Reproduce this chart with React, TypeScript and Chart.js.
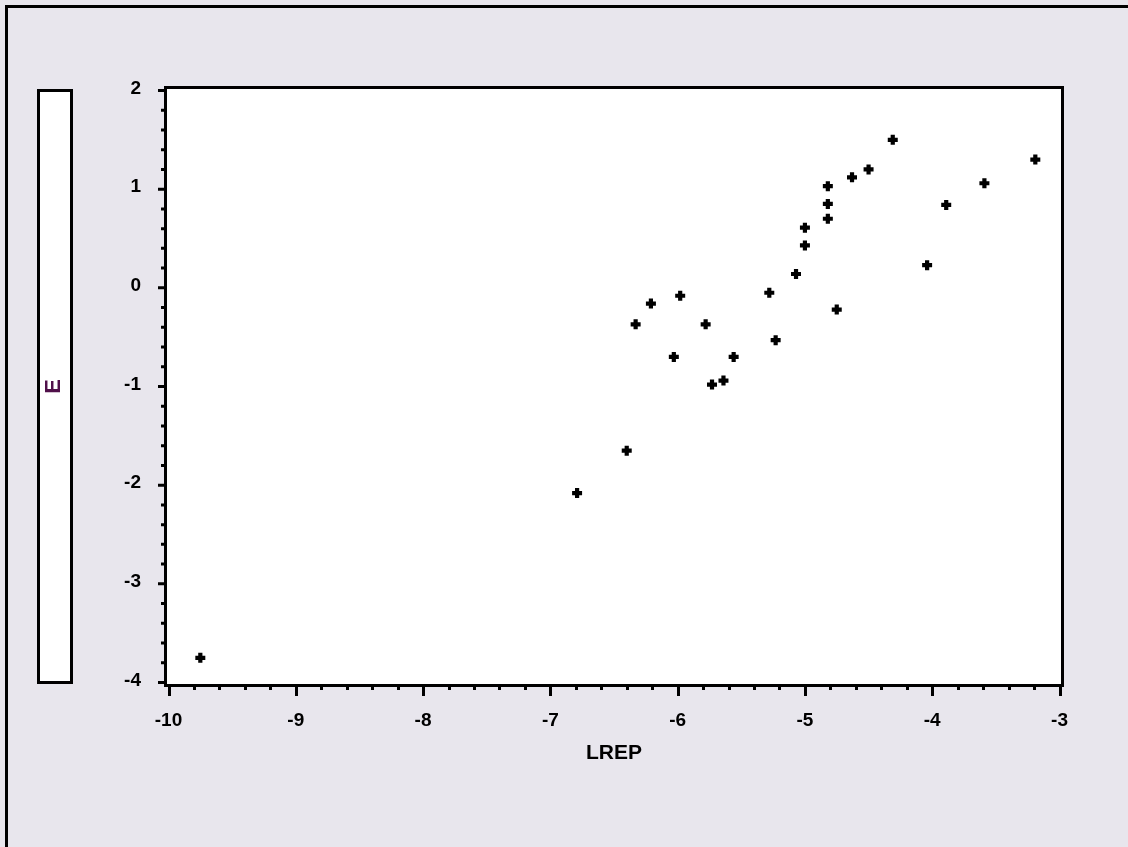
import React, { useEffect, useRef } from "react";
import { Chart, registerables } from "chart.js";

Chart.register(...registerables);

// LREP (x) values and E (y) values
const lrepValues: number[] = [
  -9.75, -6.79, -6.40, -6.33, -6.21, -6.03, -5.98, -5.78, -5.73, -5.64,
  -5.56, -5.28, -5.23, -5.07, -5.00, -5.00, -4.82, -4.82, -4.82, -4.75,
  -4.63, -4.50, -4.31, -4.04, -3.89, -3.59, -3.19,
];
const eValues: number[] = [
  -3.75, -2.08, -1.65, -0.37, -0.16, -0.70, -0.08, -0.37, -0.98, -0.94,
  -0.70, -0.05, -0.53, 0.14, 0.43, 0.61, 0.70, 0.85, 1.03, -0.22,
  1.12, 1.20, 1.50, 0.23, 0.84, 1.06, 1.30,
];
const xTickLabels: string[] = ["-10", "-9", "-8", "-7", "-6", "-5", "-4", "-3"];
const yTickLabels: string[] = ["-4", "-3", "-2", "-1", "0", "1", "2"];
const xTitle = "LREP";
const yTitle = "E";

const BG = "#E8E6ED";
const FONT = "'Liberation Sans', Arial, sans-serif";

const framePlugin = {
  id: "eviewsFrame",
  beforeDraw(chart: any) {
    const { ctx, chartArea } = chart;
    const { left, right, top, bottom } = chartArea;
    const W = chart.width;
    const H = chart.height;
    ctx.save();
    ctx.fillStyle = BG;
    ctx.fillRect(0, 0, W, H);
    ctx.strokeStyle = "#000";
    ctx.lineWidth = 3;
    // outer frame
    ctx.strokeRect(6.5, 6.5, W + 20, H + 20);
    // plot frame
    ctx.fillStyle = "#fff";
    ctx.fillRect(left - 3, top - 3, right - left + 6, bottom - top + 6);
    ctx.strokeRect(left - 3, top - 3, right - left + 6, bottom - top + 6);
    // y-label box
    ctx.fillRect(38.5, top, 33, bottom - top);
    ctx.strokeRect(38.5, top, 33, bottom - top);

    // ticks
    const xs = chart.scales.x;
    const ys = chart.scales.y;
    ctx.beginPath();
    for (let i = -50; i <= -15; i++) {
      const v = i / 5;
      const px = Math.round(xs.getPixelForValue(v)) + 0.5;
      const major = i % 5 === 0;
      ctx.moveTo(px, bottom + 3);
      ctx.lineTo(px, bottom + (major ? 13.5 : 7.5));
    }
    for (let i = -20; i <= 10; i++) {
      const v = i / 5;
      const py = ys.getPixelForValue(v);
      const major = i % 5 === 0;
      ctx.moveTo(left - 3, py);
      ctx.lineTo(left - (major ? 10.5 : 7.5), py);
    }
    ctx.stroke();
    ctx.restore();
  },
};

export default function App() {
  const canvasRef = useRef<HTMLCanvasElement | null>(null);

  useEffect(() => {
    const canvas = canvasRef.current;
    if (!canvas) return;
    const points = lrepValues.map((x, i) => ({ x, y: eValues[i] }));
    const chart = new Chart(canvas, {
      type: "scatter",
      data: {
        datasets: [
          {
            label: "E vs LREP",
            data: points,
            pointStyle: "cross",
            radius: 5,
            pointRadius: 5,
            borderWidth: 4.2,
            borderColor: "#000",
            backgroundColor: "#000",
          },
        ],
      },
      options: {
        animation: false,
        responsive: false,
        devicePixelRatio: 1,
        layout: { padding: { left: 20, top: 90.5, right: 68.5, bottom: 20 } },
        plugins: { legend: { display: false }, tooltip: { enabled: false } },
        scales: {
          x: {
            type: "linear",
            position: "bottom",
            min: -10,
            max: -3,
            grid: { display: false },
            border: { display: false },
            ticks: {
              stepSize: 1,
              padding: 19,
              color: "#000",
              font: { family: FONT, size: 19, weight: "bold" },
              callback: (v: any) => {
                const idx = Math.round(Number(v)) + 10;
                return xTickLabels[idx] ?? String(v);
              },
            },
            title: {
              display: true,
              text: xTitle,
              color: "#000",
              font: { family: FONT, size: 21, weight: "bold" },
              padding: { top: 0, bottom: 61 },
            },
            afterFit: (s: any) => {
              s.height = 144.5;
            },
          },
          y: {
            type: "linear",
            position: "left",
            min: -4,
            max: 2,
            grid: { display: false },
            border: { display: false },
            ticks: {
              stepSize: 1,
              padding: 19.5,
              labelOffset: -2,
              color: "#000",
              font: { family: FONT, size: 19, weight: "bold" },
              callback: (v: any) => {
                const idx = Math.round(Number(v)) + 4;
                return yTickLabels[idx] ?? String(v);
              },
            },
            title: {
              display: true,
              text: yTitle,
              color: "#50104A",
              font: { family: FONT, size: 22, weight: "bold" },
              padding: { top: 21, bottom: 0 },
            },
            afterFit: (s: any) => {
              s.width = 148.5;
            },
          },
        },
      },
      plugins: [framePlugin],
    } as any);
    return () => chart.destroy();
  }, []);

  return (
    <div style={{ position: "fixed", left: 0, top: 0, width: 1128, height: 847, background: BG }}>
      <canvas ref={canvasRef} width={1128} height={847} style={{ display: "block" }} />
    </div>
  );
}
